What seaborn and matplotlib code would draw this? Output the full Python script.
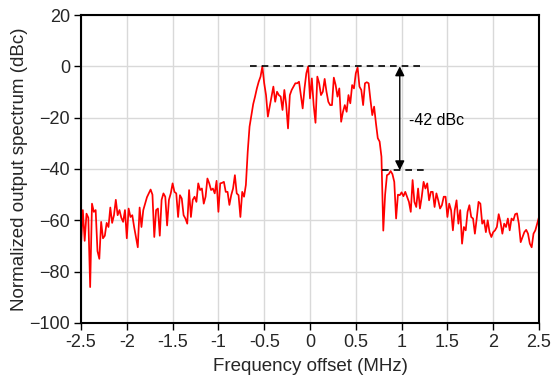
import numpy as np
import pandas as pd
import matplotlib
matplotlib.use("Agg")
import matplotlib.pyplot as plt
import seaborn as sns

# Spectrum levels (dBc), sampled every 0.02 MHz from -2.5 to 2.5 MHz
level_lower_skirt = [
    -69.8, -56, -68, -57.4, -59, -86, -53.5, -56.7, -56, -72, -75, -60.6, -67,
    -66, -61, -62.6, -55, -61, -58, -52, -58, -56, -59, -60.6, -56, -67,
    -55.4, -58.7, -58, -62.6, -66.5, -70.5, -55, -62.6, -56, -53.5, -51,
    -49.5, -48, -50, -66.5, -56, -55.4,
    -66, -52, -49.5, -50.8, -62, -52, -49.5, -45.6, -48.9, -49.5, -58.7,
    -50.2, -51.5, -58, -59.3, -61.3, -48.2, -58.7, -52, -50.8, -52.8, -45.6,
    -48.2, -47.6, -53.5, -50.8, -43.7, -45.6, -48.2, -47.6, -49.5, -44.6,
    -56.7, -45.6, -45.4, -45, -48.9, -48.9, -54, -50.2, -47.6, -42.4, -49.5,
    -50.2, -58.7, -48.9, -50.8,
]
level_band = [
    -46.2, -33.3, -23.5, -19, -14.7, -11.8, -8.6, -6, -4, 0, -6.6, -11.2,
    -19.6, -15.7, -11.8, -7.9, -13.8, -9.9, -11.2, -11.8, -17, -9.2, -15,
    -24.2, -11.2, -9.2, -7.9, -6.6, -6.6, -6, -11.2, -16.4, -8.6, -2.7, 0,
    -12.5, -4.7, -15.1, -22, -4, -6.6, -11.2, -9.9, -4.9, -9.9, -13.8, -15.1,
    -15.1, -4.4, -7.3, -11.8, -8.6, -21.6, -17.7, -15.1, -17.7, -11.2, -14.4,
    -7.3, -8.6, -2.7, -0.5, -7.9, -9.2, -15.1, -6.6, -6.2, -6.6, -13.1, -19,
    -15.7, -22.2, -28, -29.3, -35.2, -64,
]
level_upper_skirt = [
    -50, -42.4, -42, -40.8, -42, -45, -59.3, -50, -50.2, -49.1, -50.6, -48.9,
    -50.8, -52.8, -56.7, -44.3, -52.8, -54.8, -47.6, -55.4, -50.8, -45, -47.6,
    -45.6, -52.2, -48.9, -48.9, -54.8, -49.5, -52.2, -55.4, -54.1, -50.8,
    -50.8, -58.7, -53.5, -56, -63.9, -56, -52.2, -61.3, -56, -69.1, -62.6,
    -63.9, -56.7, -54.1, -58.7, -59.3, -65.2, -59.3, -52.8, -53.5, -61.3, -60,
    -64.6, -60, -64.6, -66.5, -64.6, -63.9, -62.6, -57.6, -60.7, -65.2, -61.3,
    -62.6, -59.3, -63.9, -59.3, -60, -57.6, -57.3, -61.3, -68.5, -66.5, -64.6,
    -63.7, -65.2, -69.1, -70.5, -65.2, -63.9, -61.3, -58.7,
]
level = level_lower_skirt + level_band + level_upper_skirt
freq_start, freq_step = -2.5, 0.02
freq = np.round(freq_start + freq_step * np.arange(len(level)), 3)

x_ticks = [-2.5, -2, -1.5, -1, -0.5, 0, 0.5, 1, 1.5, 2, 2.5]
x_tick_labels = ["-2.5", "-2", "-1.5", "-1", "-0.5", "0", "0.5", "1", "1.5", "2", "2.5"]
y_ticks = [-100, -80, -60, -40, -20, 0, 20]

top_ref, floor_ref = 0, -40.5
annotation_text = "-42 dBc"

df = pd.DataFrame({"freq": freq, "level": level})

sns.set_style("whitegrid")
plt.rcParams["font.family"] = ["Liberation Sans", "DejaVu Sans"]

fig = plt.figure(figsize=(5.52, 3.81), dpi=100)
ax = fig.add_axes([81 / 552, 1 - 323 / 381, 458 / 552, 308 / 381])

sns.lineplot(data=df, x="freq", y="level", color="#ff0000", linewidth=1.25, ax=ax)

ax.set_xlim(-2.5, 2.5)
ax.set_ylim(-100, 20)
ax.set_xticks(x_ticks)
ax.set_xticklabels(x_tick_labels)
ax.set_yticks(y_ticks)
ax.set_xlabel("Frequency offset (MHz)", fontsize=13.5, labelpad=5)
ax.set_ylabel("Normalized output spectrum (dBc)", fontsize=13.5, labelpad=1)
ax.tick_params(axis="both", labelsize=13, direction="out", length=5, width=1,
               color="black", pad=3, left=True, bottom=True)
ax.grid(True, color="#d9d9d9", linewidth=1)
for side, sp in ax.spines.items():
    sp.set_visible(True)
    sp.set_color("black")
    sp.set_linewidth(1.5)

# reference dashed lines
ax.plot([-0.655, 1.24], [top_ref, top_ref], color="black", linestyle=(0, (4, 3)), linewidth=1.2)
ax.plot([0.79, 1.29], [floor_ref, floor_ref], color="black", linestyle=(0, (4, 3)), linewidth=1.2)

# double arrow
ax.annotate("", xy=(0.98, top_ref), xytext=(0.98, floor_ref),
            arrowprops=dict(arrowstyle="<|-|>", color="black", lw=1,
                            mutation_scale=14, shrinkA=0, shrinkB=0))
ax.text(1.08, -21, annotation_text, fontsize=11.5, va="center", ha="left", color="black")

fig.savefig("out.png", dpi=100)
